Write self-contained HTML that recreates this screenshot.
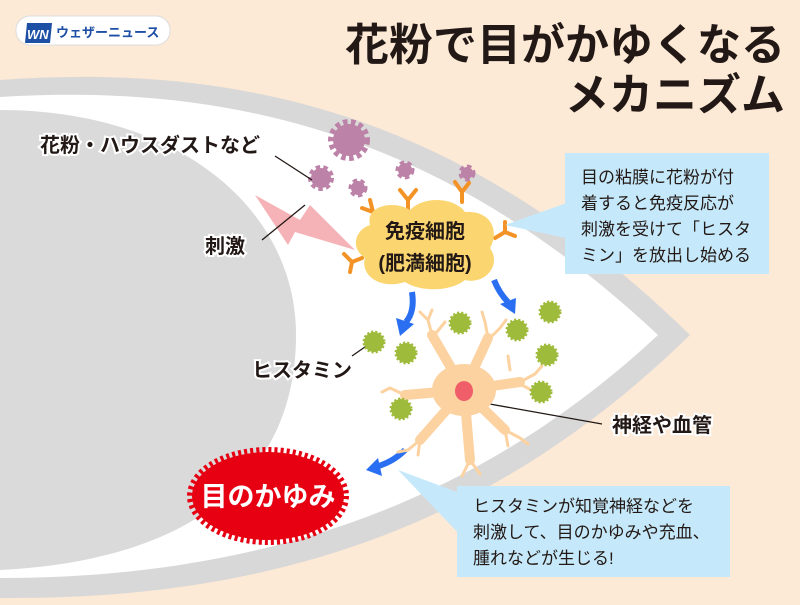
<!DOCTYPE html>
<html><head><meta charset="utf-8"><style>
html,body{margin:0;padding:0}
body{width:800px;height:600px;overflow:hidden;background:#fce9d6;font-family:"Liberation Sans","Noto Sans CJK JP",sans-serif}
svg text{font-family:"Liberation Sans","Noto Sans CJK JP",sans-serif}
</style></head><body>
<svg width="800" height="600" viewBox="0 0 800 600" xmlns="http://www.w3.org/2000/svg">
<rect width="800" height="600" fill="#fce9d6"/>
<path d="M0,80 C250,62 470,120 690,335 C480,540 250,600 0,598 Z" fill="#d9d8d8"/>
<path d="M0,97 C240,82 450,140 658,335 C470,510 250,578 0,578 Z" fill="#fff"/>
<path d="M0,110 C180,110 296,210 296,335 C296,470 200,560 0,570 Z" fill="#dadada"/>
<rect x="16" y="16" width="154" height="29" rx="14" fill="#fff" stroke="#ddd" stroke-width="1"/>
<polygon points="27,23 52,23 50,43 25,43" fill="#1d4fa5"/>
<text x="27" y="39" font-size="13" font-weight="bold" fill="#fff" font-style="italic">WN</text>
<text x="56" y="37" font-size="13" font-weight="bold" fill="#1d4fa5">ウェザーニュース</text>
<text x="785" y="60" font-size="44" font-weight="bold" fill="#221815" text-anchor="end">花粉で目がかゆくなる</text>
<text x="785" y="110" font-size="44" font-weight="bold" fill="#221815" text-anchor="end">メカニズム</text>
<g fill="#bd82a8" stroke="#bd82a8" stroke-dasharray="4 3">
<circle cx="349" cy="140" r="16" stroke-width="10"/>
<circle cx="321" cy="178" r="10" stroke-width="6"/>
<circle cx="358" cy="188" r="7" stroke-width="5"/>
<circle cx="405" cy="170" r="7" stroke-width="5"/>
<circle cx="467" cy="173" r="6" stroke-width="5"/>
</g>
<polygon points="255,195 300,220 310,205 355,250 295,232 288,245" fill="#f6b3b7"/>
<g font-size="20" font-weight="bold" fill="#221815" stroke="#fff" stroke-width="4" paint-order="stroke">
<text x="40" y="152">花粉・ハウスダストなど</text>
<text x="205" y="253">刺激</text>
<text x="252" y="377">ヒスタミン</text>
<text x="612" y="432">神経や血管</text>
</g>
<g stroke="#221815" stroke-width="1.3">
<line x1="275" y1="156" x2="312" y2="180"/>
<line x1="262" y1="240" x2="305" y2="205"/>
<line x1="352" y1="356" x2="372" y2="342"/>
<line x1="484" y1="403" x2="602" y2="424"/>
</g>
<g stroke="#f39325" stroke-width="4" fill="none" stroke-linecap="round">
<path d="M408,212 L408,200 M408,200 L400,190 M408,200 L416,190"/>
<path d="M462,202 L462,192 M462,192 L455,182 M462,192 L469,183"/>
<path d="M378,222 L373,212 M373,212 L362,208 M373,212 L370,200"/>
<path d="M495,238 L505,232 M505,232 L505,222 M505,232 L515,236"/>
<path d="M362,258 L352,262 M352,262 L344,254 M352,262 L350,272"/>
</g>
<path d="M370,225 C365,205 395,200 410,210 C425,195 455,198 465,212 C490,210 500,230 490,248 C502,265 485,285 465,280 C450,292 420,292 405,282 C380,290 360,275 365,258 C350,248 355,230 370,225 Z" fill="#fbd56f"/>
<g font-size="20" font-weight="bold" fill="#221815" text-anchor="middle">
<text x="425" y="238">免疫細胞</text>
<text x="425" y="270">(肥満細胞)</text>
</g>
<polygon points="505,225 575,200 575,240" fill="#c5e9fa"/>
<rect x="565" y="153" width="204" height="121" fill="#c5e9fa"/>
<g font-size="17" fill="#221815">
<text x="581" y="183">目の粘膜に花粉が付</text>
<text x="581" y="209">着すると免疫反応が</text>
<text x="581" y="235">刺激を受けて「ヒスタ</text>
<text x="581" y="261">ミン」を放出し始める</text>
</g>
<g fill="none" stroke="#2a6ff2" stroke-width="6">
<path d="M412,292 C414,305 412,315 406,322"/>
<path d="M494,280 C498,290 502,296 508,302"/>
<path d="M405,450 C395,460 385,464 376,467"/>
</g>
<g fill="#2a6ff2">
<polygon points="396,318 414,324 400,336"/>
<polygon points="500,304 516,298 515,314"/>
<polygon points="378,458 366,470 382,476"/>
</g>
<g stroke="#fcd2a0" stroke-linecap="round" fill="none">
<g stroke-width="10">
<path d="M464,390 L432,335"/><path d="M464,390 L488,338"/><path d="M464,390 L520,382"/>
<path d="M464,390 L505,430"/><path d="M464,390 L470,460"/><path d="M464,390 L420,440"/>
<path d="M464,390 L405,395"/>
</g>
<g stroke-width="3">
<path d="M432,335 L428,320 M432,338 L445,322 M428,320 L420,312 M428,320 L432,310"/>
<path d="M488,338 L485,322 M488,340 L500,328 M500,328 L506,320 M485,322 L482,312"/>
<path d="M520,382 L535,374 M520,384 L535,392 M535,374 L542,366 M535,392 L545,398 M510,370 L508,356"/>
<path d="M505,430 L520,438 M505,430 L508,446 M520,438 L528,444"/>
<path d="M470,460 L462,476 M470,460 L480,474"/>
<path d="M420,440 L408,450 M420,440 L418,455 M408,450 L398,452"/>
<path d="M405,395 L390,388 M405,395 L395,408 M390,388 L382,392"/>
</g>
</g>
<ellipse cx="464" cy="390" rx="32" ry="26" fill="#fcd2a0"/>
<ellipse cx="464" cy="391" rx="9" ry="10" fill="#f05f69"/>
<g fill="#9fbb3b" stroke="#9fbb3b" stroke-dasharray="2 2" stroke-width="3">
<circle cx="374" cy="342" r="10"/><circle cx="406" cy="353" r="10"/>
<circle cx="460" cy="323" r="10"/><circle cx="517" cy="330" r="10"/>
<circle cx="550" cy="312" r="10"/><circle cx="547" cy="355" r="10"/>
<circle cx="541" cy="392" r="10"/><circle cx="401" cy="409" r="10"/>
</g>
<ellipse cx="268" cy="496" rx="76" ry="44" fill="#e60012" stroke="#e60012" stroke-width="10" stroke-dasharray="3 3"/>
<text x="268" y="506" font-size="27" font-weight="bold" fill="#fff" text-anchor="middle">目のかゆみ</text>
<polygon points="398,470 465,495 465,540" fill="#c5e9fa"/>
<rect x="457" y="486" width="273" height="91" fill="#c5e9fa"/>
<g font-size="17" fill="#221815">
<text x="473" y="512">ヒスタミンが知覚神経などを</text>
<text x="473" y="538">刺激して、目のかゆみや充血、</text>
<text x="473" y="564">腫れなどが生じる!</text>
</g>
</svg>
</body></html>
